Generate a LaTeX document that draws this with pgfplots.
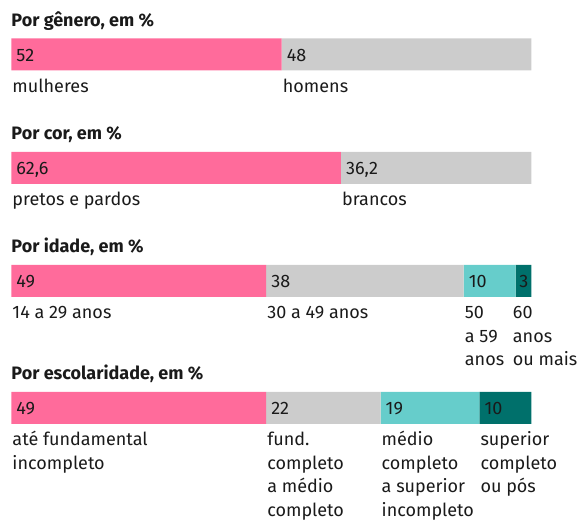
\documentclass[border=0pt]{standalone}
\usepackage{pgfplots}
\pgfplotsset{compat=1.18}
\usepackage{fontspec}
\setmainfont{Fira Sans}
\definecolor{cpink}{HTML}{FF6B9B}
\definecolor{cgray}{HTML}{CCCCCC}
\definecolor{cteal}{HTML}{66CDCB}
\definecolor{cdark}{HTML}{00706B}
\definecolor{ctext}{HTML}{1A1A1A}
\newcommand\ml[1]{\begin{tabular}[t]{@{}l@{}}#1\end{tabular}}
\tikzset{
  tit/.style={anchor=base west, inner sep=0pt, text=ctext, font=\fontsize{18bp}{20bp}\selectfont\bfseries},
  val/.style={anchor=base west, inner sep=0pt, text=ctext, xshift=5bp, font=\fontsize{18bp}{22bp}\selectfont},
  lab/.style={anchor=base west, inner sep=0pt, text=ctext, xshift=1bp, font=\fontsize{18bp}{23.5bp}\selectfont},
}
\begin{document}
\begin{tikzpicture}[x=1bp,y=1bp]
\useasboundingbox (0,0) rectangle (579,520);
\begin{axis}[at={(0,0)}, anchor=south west, scale only axis,
  width=579bp, height=520bp,
  xmin=-2.173, xmax=109.17, ymin=-520, ymax=0,
  hide axis, clip=false, xbar stacked, bar width=32,
  every axis plot/.append style={draw=none},
]
% segments in % of each bar (Por cor: 62,6 and 36,2 fill the whole bar)
\addplot[fill=cpink] coordinates {(52,-54.5) (63.4,-168) (49,-281) (49,-408)};
\addplot[fill=cgray] coordinates {(48,-54.5) (36.6,-168) (38,-281) (22,-408)};
\addplot[fill=cteal] coordinates {(0,-54.5) (0,-168) (10,-281) (19,-408)};
\addplot[fill=cdark] coordinates {(0,-54.5) (0,-168) (3,-281) (10,-408)};
% anchor points for texts
\coordinate (T1) at (axis cs:0,-26.5);
\coordinate (T2) at (axis cs:0,-140);
\coordinate (T3) at (axis cs:0,-253);
\coordinate (T4) at (axis cs:0,-380);
\coordinate (V11) at (axis cs:0,-61.5);
\coordinate (V12) at (axis cs:52,-61.5);
\coordinate (V21) at (axis cs:0,-175);
\coordinate (V22) at (axis cs:63.4,-175);
\coordinate (V31) at (axis cs:0,-288);
\coordinate (V32) at (axis cs:49,-288);
\coordinate (V33) at (axis cs:87,-288);
\coordinate (V34) at (axis cs:97,-288);
\coordinate (V41) at (axis cs:0,-415);
\coordinate (V42) at (axis cs:49,-415);
\coordinate (V43) at (axis cs:71,-415);
\coordinate (V44) at (axis cs:90,-415);
\coordinate (L11) at (axis cs:0,-93);
\coordinate (L12) at (axis cs:52,-93);
\coordinate (L21) at (axis cs:0,-206);
\coordinate (L22) at (axis cs:63.4,-206);
\coordinate (L31) at (axis cs:0,-319);
\coordinate (L32) at (axis cs:49,-319);
\coordinate (L33) at (axis cs:87,-319);
\coordinate (L34) at (axis cs:97,-319);
\coordinate (L41) at (axis cs:0,-446);
\coordinate (L42) at (axis cs:49,-446);
\coordinate (L43) at (axis cs:71,-446);
\coordinate (L44) at (axis cs:90,-446);
\end{axis}
% titles
\node[tit] at (T1) {Por gênero, em \%};
\node[tit] at (T2) {Por cor, em \%};
\node[tit] at (T3) {Por idade, em \%};
\node[tit] at (T4) {Por escolaridade, em \%};
% values
\node[val] at (V11) {52};
\node[val] at (V12) {48};
\node[val] at (V21) {62,6};
\node[val] at (V22) {36,2};
\node[val] at (V31) {49};
\node[val] at (V32) {38};
\node[val] at (V33) {10};
\node[val, xshift=-1.5bp] at (V34) {3};
\node[val] at (V41) {49};
\node[val] at (V42) {22};
\node[val] at (V43) {19};
\node[val] at (V44) {10};
% labels
\node[lab] at (L11) {mulheres};
\node[lab] at (L12) {homens};
\node[lab] at (L21) {pretos e pardos};
\node[lab] at (L22) {brancos};
\node[lab] at (L31) {14 a 29 anos};
\node[lab] at (L32) {30 a 49 anos};
\node[lab] at (L33) {\ml{50\\a 59\\anos}};
\node[lab, xshift=-4bp] at (L34) {\ml{60\\anos\\ou mais}};
\node[lab] at (L41) {\ml{até fundamental\\incompleto}};
\node[lab] at (L42) {\ml{fund.\\completo\\a médio\\completo}};
\node[lab] at (L43) {\ml{médio\\completo\\a superior\\incompleto}};
\node[lab] at (L44) {\ml{superior\\completo\\ou pós}};
\end{tikzpicture}
\end{document}
